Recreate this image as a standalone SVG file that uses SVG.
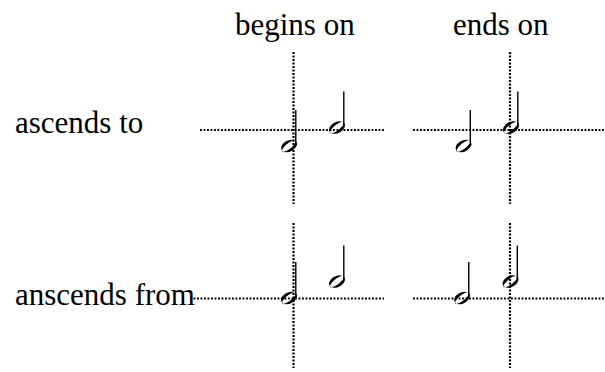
<svg xmlns="http://www.w3.org/2000/svg" width="605" height="372" viewBox="0 0 605 372">
<style>
.lbl{font-family:"Liberation Serif","Times New Roman",serif;font-size:31px;fill:#000}
.dot{stroke:#000;stroke-width:2.2;stroke-dasharray:1.9 1.6;fill:none}
.stem{stroke:#000;stroke-width:1.4}
</style>
<defs>
<g id="half">
<path fill="#000" fill-rule="evenodd" d="M -7.5 0 A 7.5 4.9 -28 1 0 7.5 0 A 7.5 4.9 -28 1 0 -7.5 0 Z M -5.2 1.3 A 5.7 1.7 -38 1 0 5.2 -1.3 A 5.7 1.7 -38 1 0 -5.2 1.3 Z"/>
<line class="stem" x1="6.8" y1="-1" x2="6.8" y2="-36"/>
</g>
</defs>
<g id="labels">
<text class="lbl" x="235" y="35">begins on</text>
<text class="lbl" x="453" y="35">ends on</text>
<text class="lbl" x="15" y="133">ascends to</text>
<text class="lbl" x="15" y="305">anscends from</text>
</g>
<g id="connectors">
<line class="dot" x1="200" y1="130" x2="384" y2="130"/>
<line class="dot" x1="293.5" y1="52" x2="293.5" y2="204"/>
<line class="dot" x1="413" y1="130" x2="604" y2="130"/>
<line class="dot" x1="510" y1="52" x2="510" y2="204"/>
<line class="dot" x1="190" y1="298.5" x2="384" y2="298.5"/>
<line class="dot" x1="293.5" y1="223" x2="293.5" y2="368"/>
<line class="dot" x1="413" y1="298.5" x2="604" y2="298.5"/>
<line class="dot" x1="510" y1="223" x2="510" y2="368"/>
</g>
<g id="note-a1"><use href="#half" x="289" y="146"/></g>
<g id="note-a2"><use href="#half" x="337" y="127.5"/></g>
<g id="note-b1"><use href="#half" x="463.5" y="146"/></g>
<g id="note-b2"><use href="#half" x="511" y="127.5"/></g>
<g id="note-c1"><use href="#half" x="289" y="298"/></g>
<g id="note-c2"><use href="#half" x="337" y="281.5"/></g>
<g id="note-d1"><use href="#half" x="462" y="298"/></g>
<g id="note-d2"><use href="#half" x="510.5" y="281.5"/></g>
</svg>
